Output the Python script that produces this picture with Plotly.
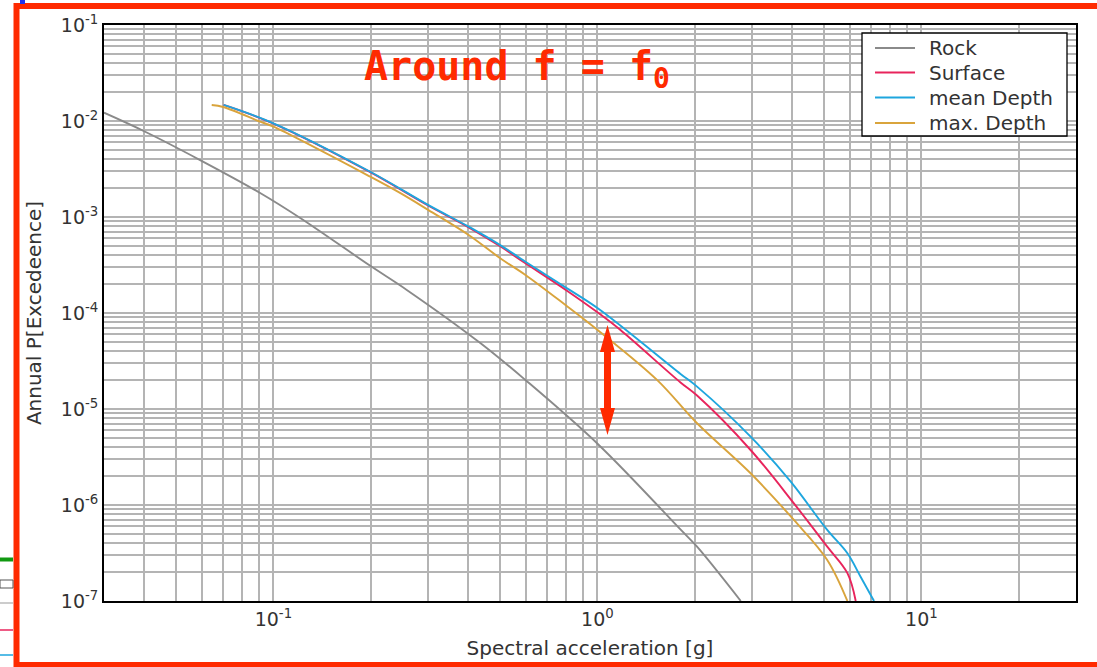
import plotly.graph_objects as go

# ---------------- data ----------------
rock_x = [0.03, 0.0402, 0.0594, 0.091, 0.121, 0.199, 0.258, 0.435, 0.60, 1.01, 1.81, 2.03, 2.77]
rock_y = [1.22e-2, 7.73e-3, 3.92e-3, 1.78e-3, 9.77e-4, 3.1e-4, 1.74e-4, 4.87e-5, 2.0e-5,
          4.22e-6, 5.5e-7, 3.68e-7, 1.0e-7]

surface_x = [0.0702, 0.1, 0.199, 0.301, 0.4005, 0.501, 0.5996, 0.797, 1.01, 1.178, 1.805,
             2.03, 2.97, 4.04, 5.12, 5.91, 6.27]
surface_y = [1.47e-2, 9.4e-3, 2.93e-3, 1.31e-3, 7.8e-4, 4.95e-4, 3.3e-4, 1.75e-4, 9.93e-5,
             6.65e-5, 1.89e-5, 1.38e-5, 3.74e-6, 1.04e-6, 3.68e-7, 1.95e-7, 1.0e-7]

mean_x = [0.0702, 0.1, 0.199, 0.301, 0.4005, 0.501, 0.5996, 0.797, 1.01, 1.805,
          2.03, 2.97, 3.95, 5.12, 5.91, 6.49, 7.14]
mean_y = [1.47e-2, 9.46e-3, 2.96e-3, 1.33e-3, 7.93e-4, 5.1e-4, 3.42e-4, 1.85e-4,
          1.1e-4, 2.32e-5, 1.71e-5, 5.15e-6, 1.75e-6, 5.5e-7, 3.14e-7, 1.79e-7, 1.0e-7]

max_x = [0.0645, 0.070, 0.091, 0.1, 0.199, 0.2466, 0.301, 0.4005, 0.501, 0.5996,
         0.797, 1.01, 1.53, 2.03, 2.97, 4.04, 5.12, 5.91]
max_y = [1.47e-2, 1.40e-2, 9.84e-3, 8.73e-3, 2.63e-3, 1.77e-3, 1.18e-3, 6.5e-4,
         3.72e-4, 2.49e-4, 1.21e-4, 6.5e-5, 2.0e-5, 7.1e-6, 2.14e-6, 6.98e-7, 2.68e-7, 1.0e-7]

series_names = ["Rock", "Surface", "mean Depth", "max. Depth"]
x_decades = [-2, -1, 0, 1]
y_decades = [-7, -6, -5, -4, -3, -2, -1]

# ---------------- styling ----------------
colors = ["#8a8a8a", "#e8245c", "#1ea6de", "#d9a43c"]
FONT = "DejaVu Sans"
TXT = "#333333"
GRID = "#b4b4b4"
RED = "#ff2a00"

W, H = 1097, 667
L, R, T, B = 104, 21, 25, 66
PW, PH = W - L - R, H - T - B


def px_x(p):
    return (p - L) / PW


def px_y(p):
    return (H - B - p) / PH


def log_ticks(decades, lo, hi):
    major_v, major_t, minor_v = [], [], []
    for d in decades:
        for m in range(1, 10):
            v = m * 10.0 ** d
            if lo * 0.999 <= v <= hi * 1.001:
                if m == 1:
                    major_v.append(v)
                    major_t.append(f"10<sup>{d}</sup>")
                else:
                    minor_v.append(v)
    return major_v, major_t, minor_v


xt_v, xt_t, xm_v = log_ticks(x_decades, 0.03, 30)
yt_v, yt_t, ym_v = log_ticks(y_decades, 1e-7, 1e-1)

fig = go.Figure()
for nm, xs, ys, c in zip(series_names,
                         [rock_x, surface_x, mean_x, max_x],
                         [rock_y, surface_y, mean_y, max_y], colors):
    fig.add_trace(go.Scatter(x=xs, y=ys, mode="lines", name=nm, showlegend=False,
                             line=dict(color=c, width=1.9, shape="spline", smoothing=1.0)))

axis_common = dict(type="log", showgrid=True, gridcolor=GRID, gridwidth=1.5,
                   showline=True, linecolor="black", linewidth=1.8, mirror=True,
                   ticks="", zeroline=False,
                   tickfont=dict(family=FONT, size=19, color=TXT))

fig.update_xaxes(**axis_common, range=[-1.5229, 1.4771], tickmode="array",
                 tickvals=xt_v, ticktext=xt_t,
                 minor=dict(tickmode="array", tickvals=xm_v, showgrid=True,
                            gridcolor=GRID, gridwidth=1.5, ticks=""),
                 title=dict(text="Spectral acceleration [g]", standoff=12,
                            font=dict(family=FONT, size=20, color=TXT)))
fig.update_yaxes(**axis_common, range=[-7, -1], tickmode="array",
                 tickvals=yt_v, ticktext=yt_t,
                 minor=dict(tickmode="array", tickvals=ym_v, showgrid=True,
                            gridcolor=GRID, gridwidth=1.5, ticks=""),
                 title=dict(text="Annual P[Excedeence]", standoff=14,
                            font=dict(family=FONT, size=20, color=TXT)))

shapes = []
# red frame around the slide
shapes.append(dict(type="rect", xref="paper", yref="paper",
                   x0=px_x(16.5), x1=px_x(1110), y0=px_y(6), y1=px_y(665),
                   line=dict(color=RED, width=6), fillcolor="rgba(0,0,0,0)"))
# slide remnants outside frame
shapes.append(dict(type="line", xref="paper", yref="paper", x0=px_x(0), x1=px_x(13),
                   y0=px_y(559.5), y1=px_y(559.5), line=dict(color="#119911", width=4)))
shapes.append(dict(type="rect", xref="paper", yref="paper", x0=px_x(0), x1=px_x(13),
                   y0=px_y(580), y1=px_y(588), line=dict(color="#555555", width=1)))
shapes.append(dict(type="line", xref="paper", yref="paper", x0=px_x(0), x1=px_x(13),
                   y0=px_y(603), y1=px_y(603), line=dict(color="#999999", width=1)))
shapes.append(dict(type="line", xref="paper", yref="paper", x0=px_x(0), x1=px_x(13),
                   y0=px_y(630), y1=px_y(630), line=dict(color="#e8245c", width=1.5)))
shapes.append(dict(type="line", xref="paper", yref="paper", x0=px_x(0), x1=px_x(13),
                   y0=px_y(655), y1=px_y(655), line=dict(color="#1ea6de", width=1.5)))
shapes.append(dict(type="rect", xref="paper", yref="paper", x0=px_x(20), x1=px_x(25),
                   y0=px_y(0), y1=px_y(4), line=dict(width=0), fillcolor="#2233ee"))

# red double-headed arrow
ax_c, top, bot = 607.5, 325, 435
sw, hw, hl = 3.5, 7.5, 27
pts = [(ax_c, top), (ax_c + hw, top + hl), (ax_c + sw, top + hl), (ax_c + sw, bot - hl),
       (ax_c + hw, bot - hl), (ax_c, bot), (ax_c - hw, bot - hl), (ax_c - sw, bot - hl),
       (ax_c - sw, top + hl), (ax_c - hw, top + hl)]
path = "M " + " L ".join(f"{px_x(a):.5f},{px_y(b):.5f}" for a, b in pts) + " Z"
shapes.append(dict(type="path", xref="paper", yref="paper", path=path,
                   fillcolor=RED, line=dict(width=0)))

# legend box (drawn manually to match the original's spacing)
lg_x0, lg_x1, lg_y0, lg_y1 = 862, 1067, 33, 136
shapes.append(dict(type="rect", xref="paper", yref="paper",
                   x0=px_x(lg_x0), x1=px_x(lg_x1), y0=px_y(lg_y0), y1=px_y(lg_y1),
                   line=dict(color="black", width=1.3), fillcolor="white"))
row_y = [48, 72.5, 97.5, 123]
annotations = []
for nm, c, ry in zip(series_names, colors, row_y):
    shapes.append(dict(type="line", xref="paper", yref="paper",
                       x0=px_x(875), x1=px_x(915), y0=px_y(ry), y1=px_y(ry),
                       line=dict(color=c, width=1.9)))
    annotations.append(dict(text=nm, xref="paper", yref="paper", x=px_x(927), y=px_y(ry),
                            xanchor="left", yanchor="middle", showarrow=False,
                            font=dict(family=FONT, size=20, color=TXT)))

annotations.append(dict(text="Around f = f<sub>0</sub>", xref="paper", yref="paper",
                        x=px_x(362), y=px_y(69), xanchor="left", yanchor="middle",
                        showarrow=False,
                        font=dict(family="DejaVu Sans Mono", size=40, color=RED,
                                  weight="bold")))

fig.update_layout(
    width=W, height=H,
    margin=dict(l=L, r=R, t=T, b=B),
    paper_bgcolor="white", plot_bgcolor="white",
    shapes=shapes,
    showlegend=False,
    annotations=annotations,
)

fig.write_html("out.html")
